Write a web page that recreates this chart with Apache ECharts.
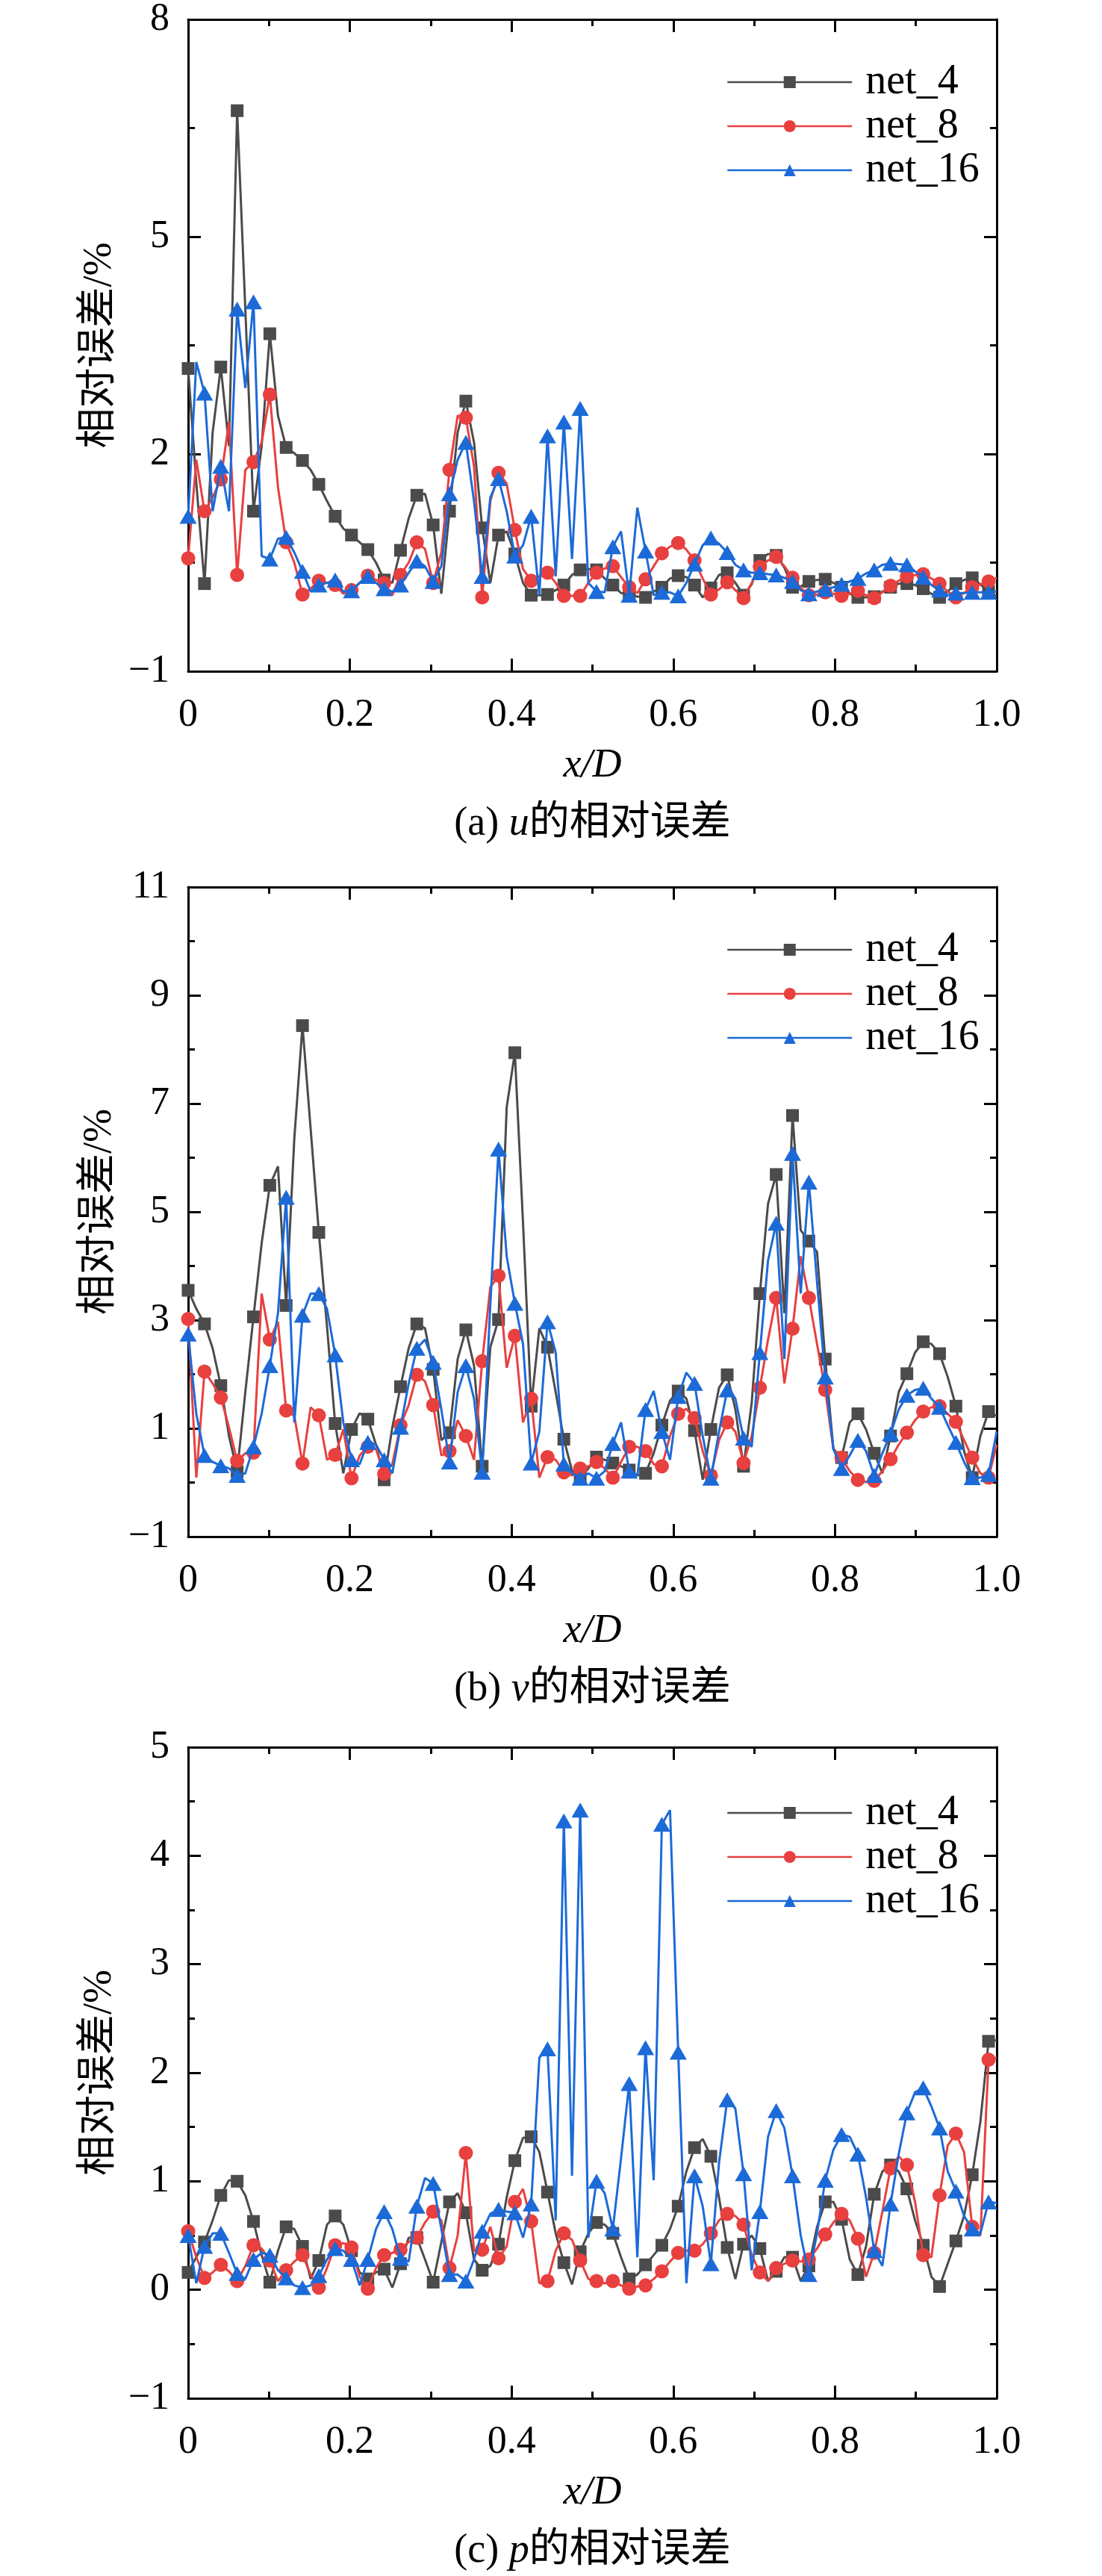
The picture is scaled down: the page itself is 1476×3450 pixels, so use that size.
<!DOCTYPE html>
<html>
<head>
<meta charset="utf-8">
<script src="https://cdn.jsdelivr.net/npm/echarts@6/dist/echarts.min.js"></script>
</head>
<body style="margin:0;background:#fff">
<div id="main" style="width:1476px;height:3450px"></div>
<script>
// 100 samples per curve over x/D = 0..1, markers on every other sample
var uNet4 = [3.18,1.6,0.21,2.3,3.20,2.11,6.74,4.0,1.21,2.11,3.66,2.53,2.09,2.01,1.91,1.78,1.58,1.35,1.14,0.97,
  0.88,0.78,0.68,0.50,0.26,0.22,0.67,1.11,1.43,1.45,1.02,0.07,1.21,2.30,2.73,2.16,0.98,0.22,0.88,0.93,
  0.62,0.22,0.05,0.05,0.06,0.12,0.19,0.33,0.40,0.41,0.40,
  0.28,0.19,0.08,0.07,0.03,0.02,0.1,0.16,0.28,0.32,0.3,0.19,0.02,0.15,0.33,0.36,0.22,0.05,0.2,0.53,
  0.62,0.60,0.43,0.16,0.17,0.24,0.26,0.27,0.22,0.16,0.07,0.02,0.02,0.03,0.1,0.16,0.21,0.21,0.19,0.14,
  0.07,0.02,0.1,0.21,0.26,0.29,0.2,0.10,0.03];
var uNet8 = [0.56,1.92,1.21,1.40,1.65,2.44,0.33,1.78,1.89,2.16,2.82,1.54,0.78,0.50,0.06,0.14,0.25,0.22,0.19,0.07,
  0.12,0.22,0.32,0.26,0.22,0.05,0.33,0.50,0.78,0.69,0.22,0.64,1.78,2.53,2.50,1.83,0.02,1.35,1.74,1.59,
  0.95,0.41,0.25,0.31,0.36,0.22,0.04,0.04,0.04,0.22,
  0.36,0.42,0.45,0.3,0.16,0.08,0.27,0.45,0.63,0.72,0.77,0.68,0.53,0.28,0.06,0.13,0.23,0.12,0.01,0.22,
  0.44,0.53,0.58,0.45,0.29,0.15,0.05,0.06,0.09,0.07,0.04,0.07,0.11,0.05,0.01,0.09,0.18,0.25,0.31,0.33,
  0.34,0.28,0.21,0.1,0.02,0.08,0.16,0.2,0.24,0.29];
var uNet16 = [1.14,3.27,2.84,1.21,1.83,1.21,4.00,2.91,4.10,0.59,0.55,0.83,0.85,0.64,0.38,0.10,0.19,0.22,0.26,0.10,
  0.11,0.22,0.31,0.22,0.14,0.10,0.19,0.36,0.52,0.45,0.24,0.45,1.45,1.92,2.16,1.35,0.31,1.40,1.66,1.21,
  0.59,0.74,1.14,0.05,2.25,0.31,2.44,0.55,2.63,0.22,
  0.10,0.09,0.72,0.93,0.05,1.26,0.66,0.05,0.09,0.09,0.04,0.22,0.48,0.74,0.84,0.76,0.64,0.47,0.40,0.36,
  0.36,0.34,0.33,0.29,0.24,0.12,0.07,0.1,0.13,0.16,0.20,0.24,0.28,0.35,0.40,0.47,0.49,0.48,0.47,0.38,
  0.30,0.19,0.12,0.05,0.08,0.08,0.09,0.09,0.09,0.10];

var vNet4 = [3.55,3.21,2.93,2.48,1.79,0.86,0.2,1.67,3.06,4.42,5.49,5.84,3.27,6.36,8.44,6.53,4.62,2.88,1.09,0.17,
  0.98,1.28,1.17,0.70,0.05,1.02,1.77,2.48,2.93,2.85,2.09,0.78,0.92,2.28,2.82,2.16,0.3,2.5,3.01,6.93,
  7.94,4.8,1.41,2.85,2.5,1.67,0.80,0.22,0.09,0.26,
  0.47,0.42,0.36,0.30,0.23,0.13,0.17,0.54,1.06,1.51,1.69,1.55,0.96,0.05,0.98,1.75,1.99,1.35,0.30,1.47,
  3.49,5.15,5.69,3.13,6.78,4.66,4.46,4.26,2.28,0.62,0.46,1.11,1.27,0.98,0.54,0.17,0.86,1.67,2.01,2.4,
  2.6,2.56,2.38,1.95,1.41,0.58,0.09,0.86,1.31,1.23];
var vNet8 = [3.02,0.09,2.05,1.83,1.57,1.02,0.40,0.54,0.55,3.49,2.64,2.97,1.33,1.23,0.35,1.39,1.24,0.42,0.51,0.98,
  0.08,0.50,0.66,0.62,0.16,0.34,1.06,1.43,1.99,1.87,1.43,0.50,0.58,1.15,0.86,0.42,2.24,3.61,3.82,2.12,
  2.71,1.11,1.55,0.09,0.47,0.42,0.19,0.13,0.26,0.30,
  0.38,0.26,0.09,0.38,0.66,0.66,0.58,0.34,0.30,0.86,1.27,1.36,1.19,0.58,0.13,0.78,1.11,0.94,0.36,0.86,
  1.75,2.64,3.41,1.83,2.84,4.18,3.41,2.56,1.71,0.62,0.46,0.21,0.05,0.01,0.03,0.21,0.43,0.70,0.92,1.15,
  1.31,1.39,1.41,1.27,1.12,0.78,0.46,0.17,0.09,0.7];
var vNet16 = [2.74,1.27,0.50,0.38,0.31,0.26,0.13,0.17,0.66,1.27,2.16,3.13,5.27,1.11,3.09,3.49,3.49,3.21,2.36,1.11,
  0.42,0.34,0.74,0.70,0.42,0.17,1.02,1.83,2.48,2.64,2.22,1.35,0.38,1.67,2.16,1.55,0.19,3.29,6.16,4.18,
  3.31,2.56,0.36,0.94,2.97,2.40,0.34,0.17,0.08,0.17,
  0.08,0.21,0.72,1.11,0.21,0.13,1.35,1.69,0.94,0.42,1.59,2.03,1.83,0.86,0.08,0.94,1.71,1.55,0.82,0.66,
  2.4,4.1,4.79,2.28,6.08,3.49,5.55,3.7,1.95,0.62,0.26,0.5,0.78,0.58,0.13,0.54,0.90,1.35,1.61,1.71,
  1.74,1.55,1.39,1.06,0.74,0.38,0.09,0.09,0.15,0.94];

var pNet4 = [0.16,0.3,0.44,0.64,0.87,1.01,1.00,0.87,0.63,0.32,0.07,0.36,0.58,0.56,0.40,0.10,0.27,0.60,0.68,0.60,
  0.36,0.16,0.10,0.16,0.19,0.02,0.24,0.48,0.48,0.28,0.07,0.44,0.81,0.89,0.71,0.28,0.18,0.22,0.42,0.85,
  1.19,1.40,1.41,1.27,0.90,0.52,0.25,0.05,0.35,0.52,
  0.62,0.60,0.52,0.30,0.10,0.14,0.23,0.32,0.41,0.56,0.77,1.09,1.31,1.39,1.23,0.85,0.39,0.10,0.42,0.50,
  0.38,0.08,0.17,0.30,0.30,0.08,0.22,0.58,0.81,0.81,0.65,0.28,0.14,0.40,0.88,1.09,1.15,1.09,0.93,0.64,
  0.41,0.12,0.03,0.24,0.45,0.68,1.06,1.55,2.29,2.3];
var pNet8 = [0.54,0.3,0.11,0.16,0.23,0.17,0.08,0.22,0.41,0.38,0.27,0.08,0.18,0.26,0.32,0.14,0.02,0.20,0.41,0.43,
  0.39,0.12,0.01,0.20,0.32,0.34,0.37,0.44,0.48,0.62,0.72,0.64,0.20,0.50,1.26,0.36,0.37,0.58,0.29,0.40,
  0.81,0.93,0.63,0.06,0.08,0.36,0.52,0.46,0.27,0.10,
  0.08,0.06,0.08,0.04,0.01,0.03,0.04,0.10,0.17,0.26,0.34,0.36,0.36,0.42,0.52,0.64,0.70,0.68,0.60,0.32,
  0.16,0.08,0.20,0.24,0.27,0.26,0.28,0.38,0.51,0.62,0.70,0.64,0.47,0.12,0.34,0.72,1.12,1.23,1.15,0.81,
  0.32,0.30,0.87,1.33,1.44,1.27,0.58,0.50,2.12,2.14];
var pNet16 = [0.50,0.06,0.40,0.52,0.52,0.34,0.15,0.10,0.28,0.34,0.32,0.18,0.11,0.04,0.02,0.04,0.13,0.28,0.38,0.36,
  0.28,0.04,0.28,0.56,0.72,0.56,0.29,0.26,0.77,1.03,0.98,0.56,0.14,0.14,0.08,0.28,0.54,0.70,0.74,0.72,
  0.71,0.48,0.79,2.14,2.22,0.64,4.32,1.05,4.42,0.48,
  1.0,0.89,0.56,1.21,1.90,0.30,2.23,1.01,4.29,4.42,2.19,0.06,1.05,0.77,0.24,1.17,1.75,1.67,1.07,0.18,
  0.72,1.41,1.65,1.49,1.05,0.50,0.14,0.52,1.01,1.29,1.43,1.41,1.25,0.85,0.36,0.22,0.79,1.25,1.63,1.82,
  1.86,1.69,1.49,1.09,0.91,0.68,0.56,0.52,0.81,0.80];

var netNames = ['net_4', 'net_8', 'net_16'];
var netColors = ['#4b4b4b', '#e8403f', '#1c6ad8'];
var netSymbols = ['rect', 'circle', 'triangle'];
var netSizes = [17, 19, [23, 20]];

var panels = [
  { data: [uNet4, uNet8, uNet16], yMin: -1, yMax: 8, yStep: 3, top: 26, height: 873, cap: '(a) {i|u}的相对误差' },
  { data: [vNet4, vNet8, vNet16], yMin: -1, yMax: 11, yStep: 2, top: 1188, height: 870, cap: '(b) {i|v}的相对误差' },
  { data: [pNet4, pNet8, pNet16], yMin: -1, yMax: 5, yStep: 1, top: 2340, height: 872, cap: '(c) {i|p}的相对误差' }
];

var serif = "'Liberation Serif', 'DejaVu Serif', 'Noto Sans CJK SC', serif";
var gridLeft = 252, gridWidth = 1083;
var xStep = 1 / 99;

var tickBase = {
  axisLine: { show: true, onZero: false, lineStyle: { color: '#000', width: 3 } },
  axisTick: { show: true, inside: true, length: 17, lineStyle: { color: '#000', width: 3 } },
  minorTick: { show: true, splitNumber: 2, length: 9, lineStyle: { color: '#000', width: 3 } },
  splitLine: { show: false }
};

function axisX(gi, pos) {
  return Object.assign({
    type: 'value', gridIndex: gi, position: pos, min: 0, max: 1, interval: 0.2,
    name: pos === 'bottom' ? 'x/D' : '',
    nameLocation: 'middle', nameGap: 100,
    nameTextStyle: { fontFamily: serif, fontSize: 54, fontStyle: 'italic', color: '#000' },
    axisLabel: {
      show: pos === 'bottom', margin: 33, fontFamily: serif, fontSize: 52, color: '#000',
      formatter: function (v) { return v === 0 ? '0' : v.toFixed(1); }
    }
  }, tickBase);
}

function axisY(gi, pos, p) {
  return Object.assign({
    type: 'value', gridIndex: gi, position: pos, min: p.yMin, max: p.yMax, interval: p.yStep,
    name: pos === 'left' ? '相对误差/%' : '',
    nameLocation: 'middle', nameGap: 90,
    nameTextStyle: { fontFamily: serif, fontSize: 54, color: '#000' },
    axisLabel: {
      show: pos === 'left', margin: 25, fontFamily: serif, fontSize: 52, color: '#000',
      formatter: function (v) { return v < 0 ? '\u2212' + (-v) : String(v); }
    }
  }, tickBase);
}

var grids = [], xAxes = [], yAxes = [], series = [], legends = [], graphics = [];

panels.forEach(function (p, pi) {
  grids.push({ left: gridLeft, width: gridWidth, top: p.top, height: p.height, containLabel: false });
  xAxes.push(axisX(pi, 'bottom'), axisX(pi, 'top'));
  yAxes.push(axisY(pi, 'left', p), axisY(pi, 'right', p));

  p.data.forEach(function (vals, ni) {
    series.push({
      name: netNames[ni],
      type: 'line',
      xAxisIndex: pi * 2,
      yAxisIndex: pi * 2,
      symbol: netSymbols[ni],
      symbolSize: netSizes[ni],
      showSymbol: true,
      data: vals.map(function (y, j) {
        return j % 2 === 0 ? [j * xStep, y] : { value: [j * xStep, y], symbol: 'none' };
      }),
      lineStyle: { color: netColors[ni], width: 3 },
      itemStyle: { color: netColors[ni] },
      z: 2 + ni
    });
  });

  var legTop = [77, 1239, 2395][pi];
  legends.push({
    orient: 'vertical', left: 968, top: legTop,
    itemWidth: 167, itemHeight: 20, itemGap: 3,
    lineStyle: { width: 2.5 },
    textStyle: { fontFamily: serif, fontSize: 56, lineHeight: 56, color: '#000', padding: [0, 0, 0, 13] },
    data: netNames
  });

  graphics.push({
    type: 'text',
    x: gridLeft + gridWidth / 2,
    y: p.top + p.height + 205,
    style: {
      text: p.cap,
      fontFamily: serif, fontSize: 54, fill: '#000',
      align: 'center', verticalAlign: 'middle',
      rich: { i: { fontFamily: serif, fontSize: 54, fontStyle: 'italic' } }
    }
  });
});

var chart = echarts.init(document.getElementById('main'), null, { renderer: 'canvas' });
chart.setOption({
  animation: false,
  backgroundColor: '#fff',
  grid: grids,
  xAxis: xAxes,
  yAxis: yAxes,
  legend: legends,
  graphic: graphics,
  series: series
});
</script>
</body>
</html>
